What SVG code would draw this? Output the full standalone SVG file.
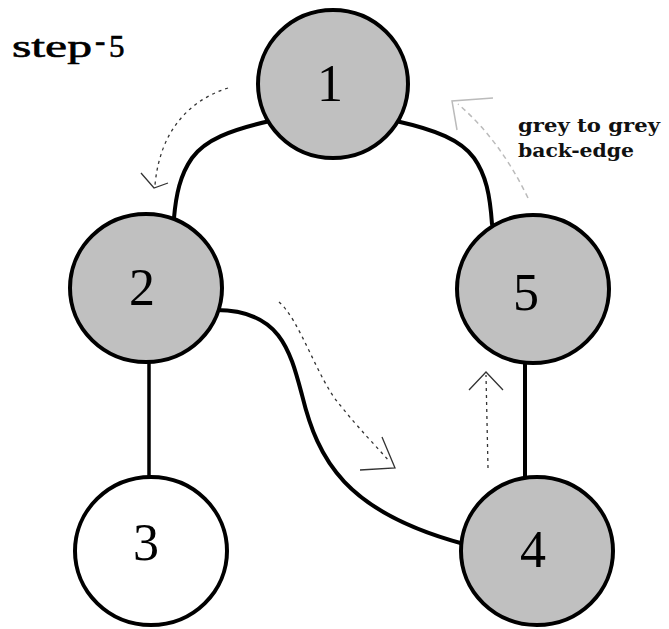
<svg xmlns="http://www.w3.org/2000/svg" width="669" height="629" viewBox="0 0 669 629">
<style>
.node{fill:#c0c0c0;stroke:#000;stroke-width:4}
.white{fill:#fff}
.edge{fill:none;stroke:#000;stroke-width:4;stroke-linecap:round}
.trav{fill:none;stroke:#333;stroke-width:1.3;stroke-dasharray:3 4}
.head{fill:none;stroke:#333;stroke-width:1.3}
.back{fill:none;stroke:#bbb;stroke-width:1.5;stroke-dasharray:5 4}
.backhead{fill:none;stroke:#bbb;stroke-width:1.5}
.num{font-family:"Liberation Serif","DejaVu Serif",serif;font-size:52px;fill:#000;text-anchor:middle}
.note{font-family:"DejaVu Serif","Liberation Serif",serif;font-weight:bold;font-size:18px;fill:#111}
.title{font-family:"Liberation Serif","DejaVu Serif",serif;font-size:31px;fill:#000;stroke:#000;stroke-width:0.6}
</style>
<rect width="669" height="629" fill="#fff"/>
<text class="title" x="12" y="57" textLength="80" lengthAdjust="spacingAndGlyphs">step</text>
<text class="title" x="95" y="51">-</text>
<text class="title" x="109" y="57" font-size="33">5</text>
<g id="connectors">
<path class="edge" d="M 270 121 C 230 130 205 140 192 158 C 180 175 176 195 174 218"/>
<path class="edge" d="M 396 121 C 436 130 461 140 474 158 C 486 175 490 195 492 224"/>
<path class="edge" d="M 149 360 L 149 480" style="stroke-width:3.5"/>
<path class="edge" d="M 525 360 L 525 480"/>
<path class="edge" d="M 216 310 C 280 310 290 350 302 395 C 318 460 345 512 464 544"/>
<path class="trav" d="M 228 88 C 190 100 160 130 155 185"/>
<polyline class="head" points="141,173 154,188 168,183"/>
<path class="trav" d="M 279 302 C 300 320 318 380 340 405 C 360 430 375 445 390 462"/>
<polyline class="head" points="360,470 395,468 382,437"/>
<path class="trav" d="M 488 468 L 486 375"/>
<polyline class="head" points="469,390 486,372 503,390"/>
<path class="back" d="M 528 198 Q 500 140 458 104"/>
<polyline class="backhead" points="493,98 452,101 457,130"/>
</g>
<g id="node1"><ellipse class="node" cx="333" cy="84" rx="75" ry="74"/><text class="num" x="330" y="101">1</text></g>
<g id="node2"><ellipse class="node" cx="146" cy="288" rx="76" ry="74"/><text class="num" x="142" y="305">2</text></g>
<g id="node5"><ellipse class="node" cx="533" cy="289" rx="76" ry="74"/><text class="num" x="526" y="310">5</text></g>
<g id="node3"><ellipse class="node white" cx="151" cy="551" rx="76" ry="74"/><text class="num" x="146" y="560">3</text></g>
<g id="node4"><ellipse class="node" cx="537" cy="551" rx="76" ry="74"/><text class="num" x="533" y="567">4</text></g>
<text class="note" x="518" y="132" textLength="142" lengthAdjust="spacingAndGlyphs">grey to grey</text>
<text class="note" x="518" y="157" textLength="116" lengthAdjust="spacingAndGlyphs">back-edge</text>
</svg>
